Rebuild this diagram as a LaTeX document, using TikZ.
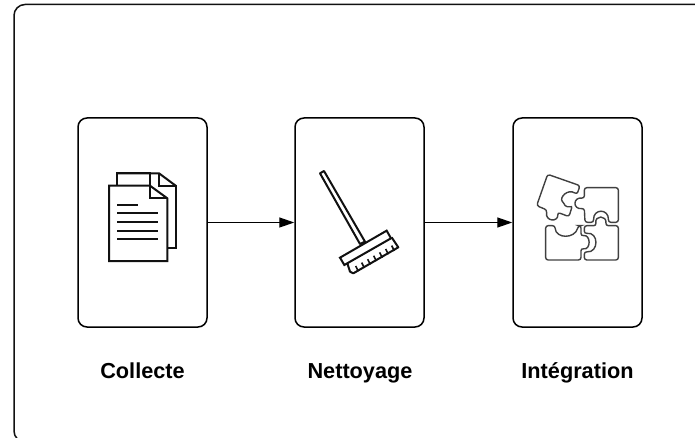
\documentclass[tikz,border=0pt]{standalone}
\usepackage{fontspec}
\setmainfont{Liberation Sans}
\definecolor{fonce}{HTML}{111111}
\definecolor{gris}{HTML}{404040}
\usetikzlibrary{arrows.meta}
\begin{document}
\begin{tikzpicture}[x=1pt,y=-1pt]
	\tikzset{etape/.style = {draw=black,line width=1.5pt,rounded corners=9pt,minimum width=129pt,minimum height=209pt,inner sep=0pt}}
	\tikzset{titre/.style = {font=\fontsize{21.7}{24}\selectfont\bfseries,text=black,inner sep=0pt,anchor=base}}
	\tikzset{fleche/.style = {-{Stealth[length=15pt,width=10pt,inset=0pt]},line width=1.3pt,black}}
	\tikzset{icone/.style = {line width=2pt,fonce,line join=miter}}
	\tikzset{morceau/.style = {line width=1.4pt,gris,rounded corners=2.5pt}}
	\useasboundingbox (0,0) rectangle (695,438);
	\draw[line width=1.5pt,fonce,rounded corners=11pt] (700,4.5)--(14,4.5)--(14,442)--(26,442);
	\fill[white] (0,437.6) rectangle (695,445);
	\node[etape] (collecte) at (142.5,222.5) {};
	\node[etape] (nettoyage) at (359.5,222.5) {};
	\node[etape] (integration) at (577.5,222.5) {};
	\node[titre] (tcollecte) at (142.5,378) {Collecte};
	\node[titre] (tnettoyage) at (360,378) {Nettoyage};
	\node[titre] (tintegration) at (577.5,378) {Intégration};
	\draw[fleche] (collecte)--(nettoyage);
	\draw[fleche] (nettoyage)--(integration);
	% documents
	\draw[icone] (150,185.7)--(150,173.3)--(116.7,173.3)--(116.7,185.7);
	\draw[icone] (159,173.3)--(159,185.7)--(175.7,185.7)--(175.7,248.3)--(167.3,248.3);
	\draw[icone] (116.7,173.3)--(159,173.3)--(175.7,185.7);
	\draw[icone,fill=white] (109,185.7)--(150,185.7)--(167.3,198.3)--(167.3,261)--(109,261)--cycle;
	\draw[icone] (150,185.7)--(150,198.3)--(167.3,198.3);
	\draw[icone] (117.3,205)--(137.7,205);
	\foreach \ligne in {213.3,222.3,230.7,239}
		\draw[icone] (117.3,\ligne)--(158.3,\ligne);
	% balai
	\begin{scope}[shift={(305,160)},x=.3333pt,y=-.3333pt]
		\draw[icone,line join=round] (45,40)--(57,33)--(180,245)--(165,252)--cycle;
		\draw[icone,fill=white] (105,293)--(245,212)--(258,235)--(118,315)--cycle;
		\draw[icone,line join=round] (127,310)--(135,335)--(145,340)--(280,262)--(260,232);
		\foreach \brin in {0,...,6}
			\draw[line width=1.6pt,fonce] ({152+\brin*18},{318-\brin*10.2})--({160+\brin*18},{334-\brin*10.2});
	\end{scope}
	% puzzle
	\begin{scope}[shift={(525,165)},x=.3333pt,y=-.3333pt]
		\draw[morceau] (68,28)--(165,62)--(156,88)
			.. controls (128,70) and (102,98) .. (117,115)
			.. controls (122,125) and (132,127) .. (142,122)--(132,155)--(98,142)
			.. controls (100,172) and (60,170) .. (66,135)--(35,122)--cycle;
		\draw[morceau] (178,68)--(280,68)--(280,172)--(250,172)
			.. controls (252,130) and (204,130) .. (206,172)--(180,172)--(178,130)
			.. controls (143,134) and (143,96) .. (178,100)--cycle;
		\draw[morceau] (178,182)--(214,182)
			.. controls (208,150) and (246,150) .. (242,182)--(280,182)--(280,285)--(178,285)--(178,260)
			.. controls (222,264) and (222,200) .. (178,206)--cycle;
		\draw[morceau] (62,182)--(90,182)
			.. controls (92,222) and (150,222) .. (160,182)--(168,182)--(168,213)
			.. controls (198,208) and (198,256) .. (168,250)--(168,285)--(62,285)--cycle;
	\end{scope}
\end{tikzpicture}
\end{document}
